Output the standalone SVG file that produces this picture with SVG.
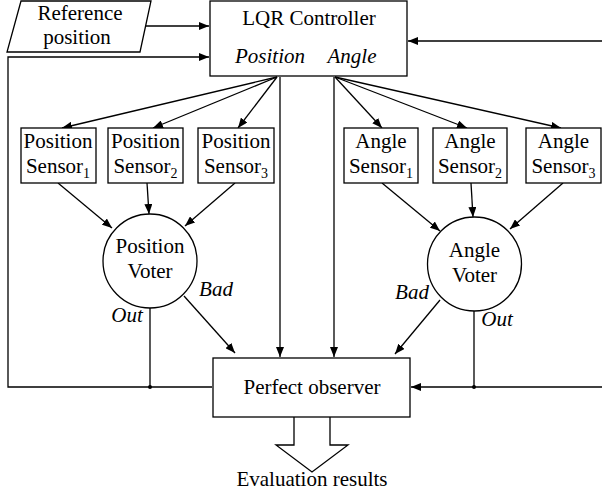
<svg xmlns="http://www.w3.org/2000/svg" width="602" height="490" viewBox="0 0 602 490" font-family="Liberation Serif, serif">
<style>
.b{fill:#fff;stroke:#000;stroke-width:1.3}
.l{fill:none;stroke:#000;stroke-width:1.3}
.t{font-family:'Liberation Serif',serif;font-size:21px;fill:#000;text-anchor:middle}
.i{font-style:italic}
.s{font-size:14px}
</style>
<defs>
<marker id="a" viewBox="0 0 10 8" refX="10" refY="4" markerWidth="10" markerHeight="8" markerUnits="userSpaceOnUse" orient="auto">
<path d="M0,0 L10,4 L0,8 Z" fill="#000"/>
</marker>
</defs>
<rect width="602" height="490" fill="#fff"/>
<g id="connectors">
<line class="l" x1="146" y1="26" x2="209" y2="26" marker-end="url(#a)"/>
<polyline class="l" points="212,387 8,387 8,57 209,57" marker-end="url(#a)"/>
<line class="l" x1="602" y1="41" x2="408" y2="41" marker-end="url(#a)"/>
<line class="l" x1="280" y1="77" x2="280" y2="357" marker-end="url(#a)"/>
<line class="l" x1="334" y1="77" x2="334" y2="357" marker-end="url(#a)"/>
<line class="l" x1="277" y1="77" x2="62" y2="128" marker-end="url(#a)"/>
<line class="l" x1="277" y1="77" x2="153" y2="128" marker-end="url(#a)"/>
<line class="l" x1="277" y1="77" x2="238" y2="128" marker-end="url(#a)"/>
<line class="l" x1="335" y1="77" x2="382" y2="128" marker-end="url(#a)"/>
<line class="l" x1="335" y1="77" x2="467" y2="128" marker-end="url(#a)"/>
<line class="l" x1="335" y1="77" x2="561" y2="128" marker-end="url(#a)"/>
<line class="l" x1="58" y1="183" x2="112" y2="228" marker-end="url(#a)"/>
<line class="l" x1="147" y1="183" x2="149" y2="214" marker-end="url(#a)"/>
<line class="l" x1="235" y1="183" x2="185" y2="226" marker-end="url(#a)"/>
<line class="l" x1="382" y1="183" x2="440" y2="231" marker-end="url(#a)"/>
<line class="l" x1="471" y1="183" x2="473" y2="217" marker-end="url(#a)"/>
<line class="l" x1="563" y1="183" x2="510" y2="229" marker-end="url(#a)"/>
<line class="l" x1="184" y1="296" x2="235" y2="353" marker-end="url(#a)"/>
<line class="l" x1="440" y1="300" x2="395" y2="354" marker-end="url(#a)"/>
<line class="l" x1="150" y1="308" x2="150" y2="387"/>
<line class="l" x1="474" y1="311" x2="474" y2="387"/>
<line class="l" x1="602" y1="387" x2="411" y2="387" marker-end="url(#a)"/>
<circle cx="150" cy="387" r="2" fill="#000"/>
<circle cx="474" cy="387" r="2" fill="#000"/>
<path class="b" d="M294,417 L294,445 L276,445 L312,472 L348,445 L330,445 L330,417"/>
</g>
<g id="reference">
<polygon class="b" points="21,1 151,1 140,52 7,52"/>
<text class="t" x="80" y="20">Reference</text>
<text class="t" x="77" y="44">position</text>
</g>
<g id="lqr">
<rect class="b" x="210" y="1" width="197" height="75"/>
<text class="t" x="309" y="25">LQR Controller</text>
<text class="t i" x="270" y="63">Position</text>
<text class="t i" x="352" y="63">Angle</text>
</g>
<g id="ps1"><rect class="b" x="21" y="128" width="75" height="55"/><text class="t" x="58" y="148">Position</text><text class="t" x="58" y="173">Sensor<tspan class="s" dy="5">1</tspan></text></g>
<g id="ps2"><rect class="b" x="108" y="128" width="75" height="55"/><text class="t" x="145.5" y="148">Position</text><text class="t" x="145.5" y="173">Sensor<tspan class="s" dy="5">2</tspan></text></g>
<g id="ps3"><rect class="b" x="198" y="128" width="76" height="55"/><text class="t" x="236" y="148">Position</text><text class="t" x="236" y="173">Sensor<tspan class="s" dy="5">3</tspan></text></g>
<g id="as1"><rect class="b" x="344" y="128" width="74" height="55"/><text class="t" x="381" y="148">Angle</text><text class="t" x="381" y="173">Sensor<tspan class="s" dy="5">1</tspan></text></g>
<g id="as2"><rect class="b" x="433" y="128" width="74" height="55"/><text class="t" x="470" y="148">Angle</text><text class="t" x="470" y="173">Sensor<tspan class="s" dy="5">2</tspan></text></g>
<g id="as3"><rect class="b" x="526" y="128" width="75" height="55"/><text class="t" x="563.5" y="148">Angle</text><text class="t" x="563.5" y="173">Sensor<tspan class="s" dy="5">3</tspan></text></g>
<g id="pvoter">
<circle class="b" cx="150" cy="261" r="47"/>
<text class="t" x="150" y="253">Position</text>
<text class="t" x="150" y="278">Voter</text>
<text class="t i" x="216" y="296">Bad</text>
<text class="t i" x="127" y="322">Out</text>
</g>
<g id="avoter">
<circle class="b" cx="474.5" cy="264" r="47"/>
<text class="t" x="474.5" y="257">Angle</text>
<text class="t" x="474.5" y="282">Voter</text>
<text class="t i" x="412" y="299">Bad</text>
<text class="t i" x="497" y="326">Out</text>
</g>
<g id="observer">
<rect class="b" x="213" y="358" width="197" height="59"/>
<text class="t" x="312" y="394">Perfect observer</text>
</g>
<g id="results">
<text class="t" x="312" y="486">Evaluation results</text>
</g>
</svg>
